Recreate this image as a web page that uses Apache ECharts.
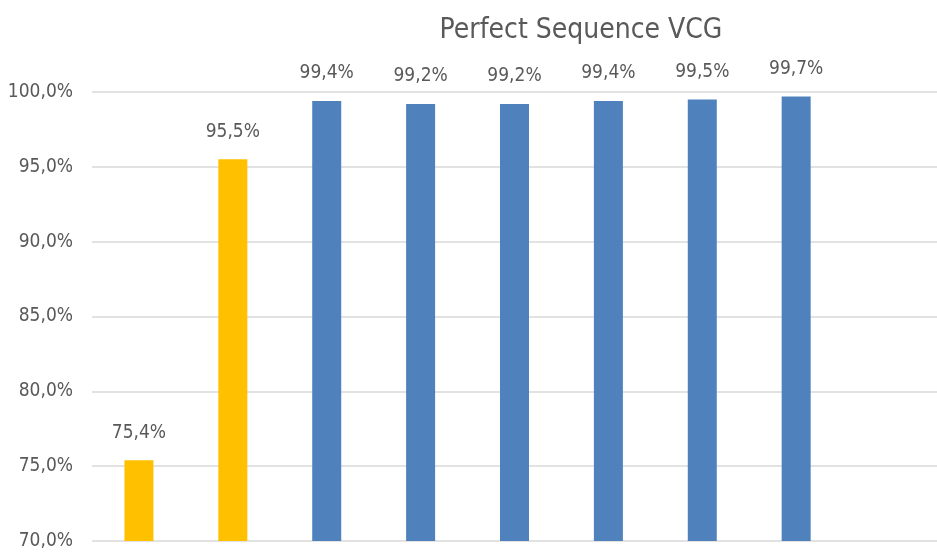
<!DOCTYPE html>
<html>
<head>
<meta charset="utf-8">
<script src="https://cdn.jsdelivr.net/npm/echarts@6/dist/echarts.min.js"></script>
<style>
    html, body {
        margin: 0;
        padding: 0;
        background: #ffffff;
    }
    #chart {
        width: 937px;
        height: 552px;
    }
</style>
</head>
<body>
<div id="chart"></div>
<script>
// categories have no visible labels in the picture; the last slot is empty
const categories = ['1', '2', '3', '4', '5', '6', '7', '8', '9'];
const scores = [75.4, 95.5, 99.4, 99.2, 99.2, 99.4, 99.5, 99.7, null];
const yTicks = [70, 75, 80, 85, 90, 95, 100];

const font = '"Liberation Sans Narrow", "DejaVu Sans Condensed", sans-serif';
const textColor = '#595959';

function pct(v) {
    return v.toFixed(1).replace('.', ',') + '%';
}

var myChart = echarts.init(document.getElementById('chart'));

myChart.setOption({
    animation: false,
    title: {
        text: 'Perfect Sequence VCG',
        left: 576,
        top: 12,
        textAlign: 'center',
        textStyle: {
            fontFamily: font,
            fontSize: 28,
            fontWeight: 'normal',
            color: textColor
        }
    },
    grid: {
        left: 92,
        right: 0,
        top: 92,
        bottom: 11,
        outerBoundsMode: 'none'
    },
    xAxis: {
        type: 'category',
        data: categories,
        axisLine: { show: false },
        axisTick: { show: false },
        axisLabel: { show: false }
    },
    yAxis: {
        type: 'value',
        min: yTicks[0],
        max: yTicks[yTicks.length - 1],
        interval: 5,
        axisLine: { show: false },
        axisTick: { show: false },
        axisLabel: {
            margin: 19,
            fontFamily: font,
            fontSize: 19,
            color: textColor,
            formatter: pct
        },
        splitLine: {
            lineStyle: { color: '#d9d9d9', width: 1.5 }
        }
    },
    series: [
        {
            type: 'bar',
            data: scores,
            barWidth: 29,
            itemStyle: {
                color: function (p) {
                    return p.dataIndex < 2 ? '#ffc000' : '#4f81bd';
                }
            },
            label: {
                show: true,
                position: 'top',
                distance: 18,
                fontFamily: font,
                fontSize: 19,
                color: textColor,
                formatter: function (p) {
                    return pct(p.value);
                }
            }
        }
    ]
});
</script>
</body>
</html>
